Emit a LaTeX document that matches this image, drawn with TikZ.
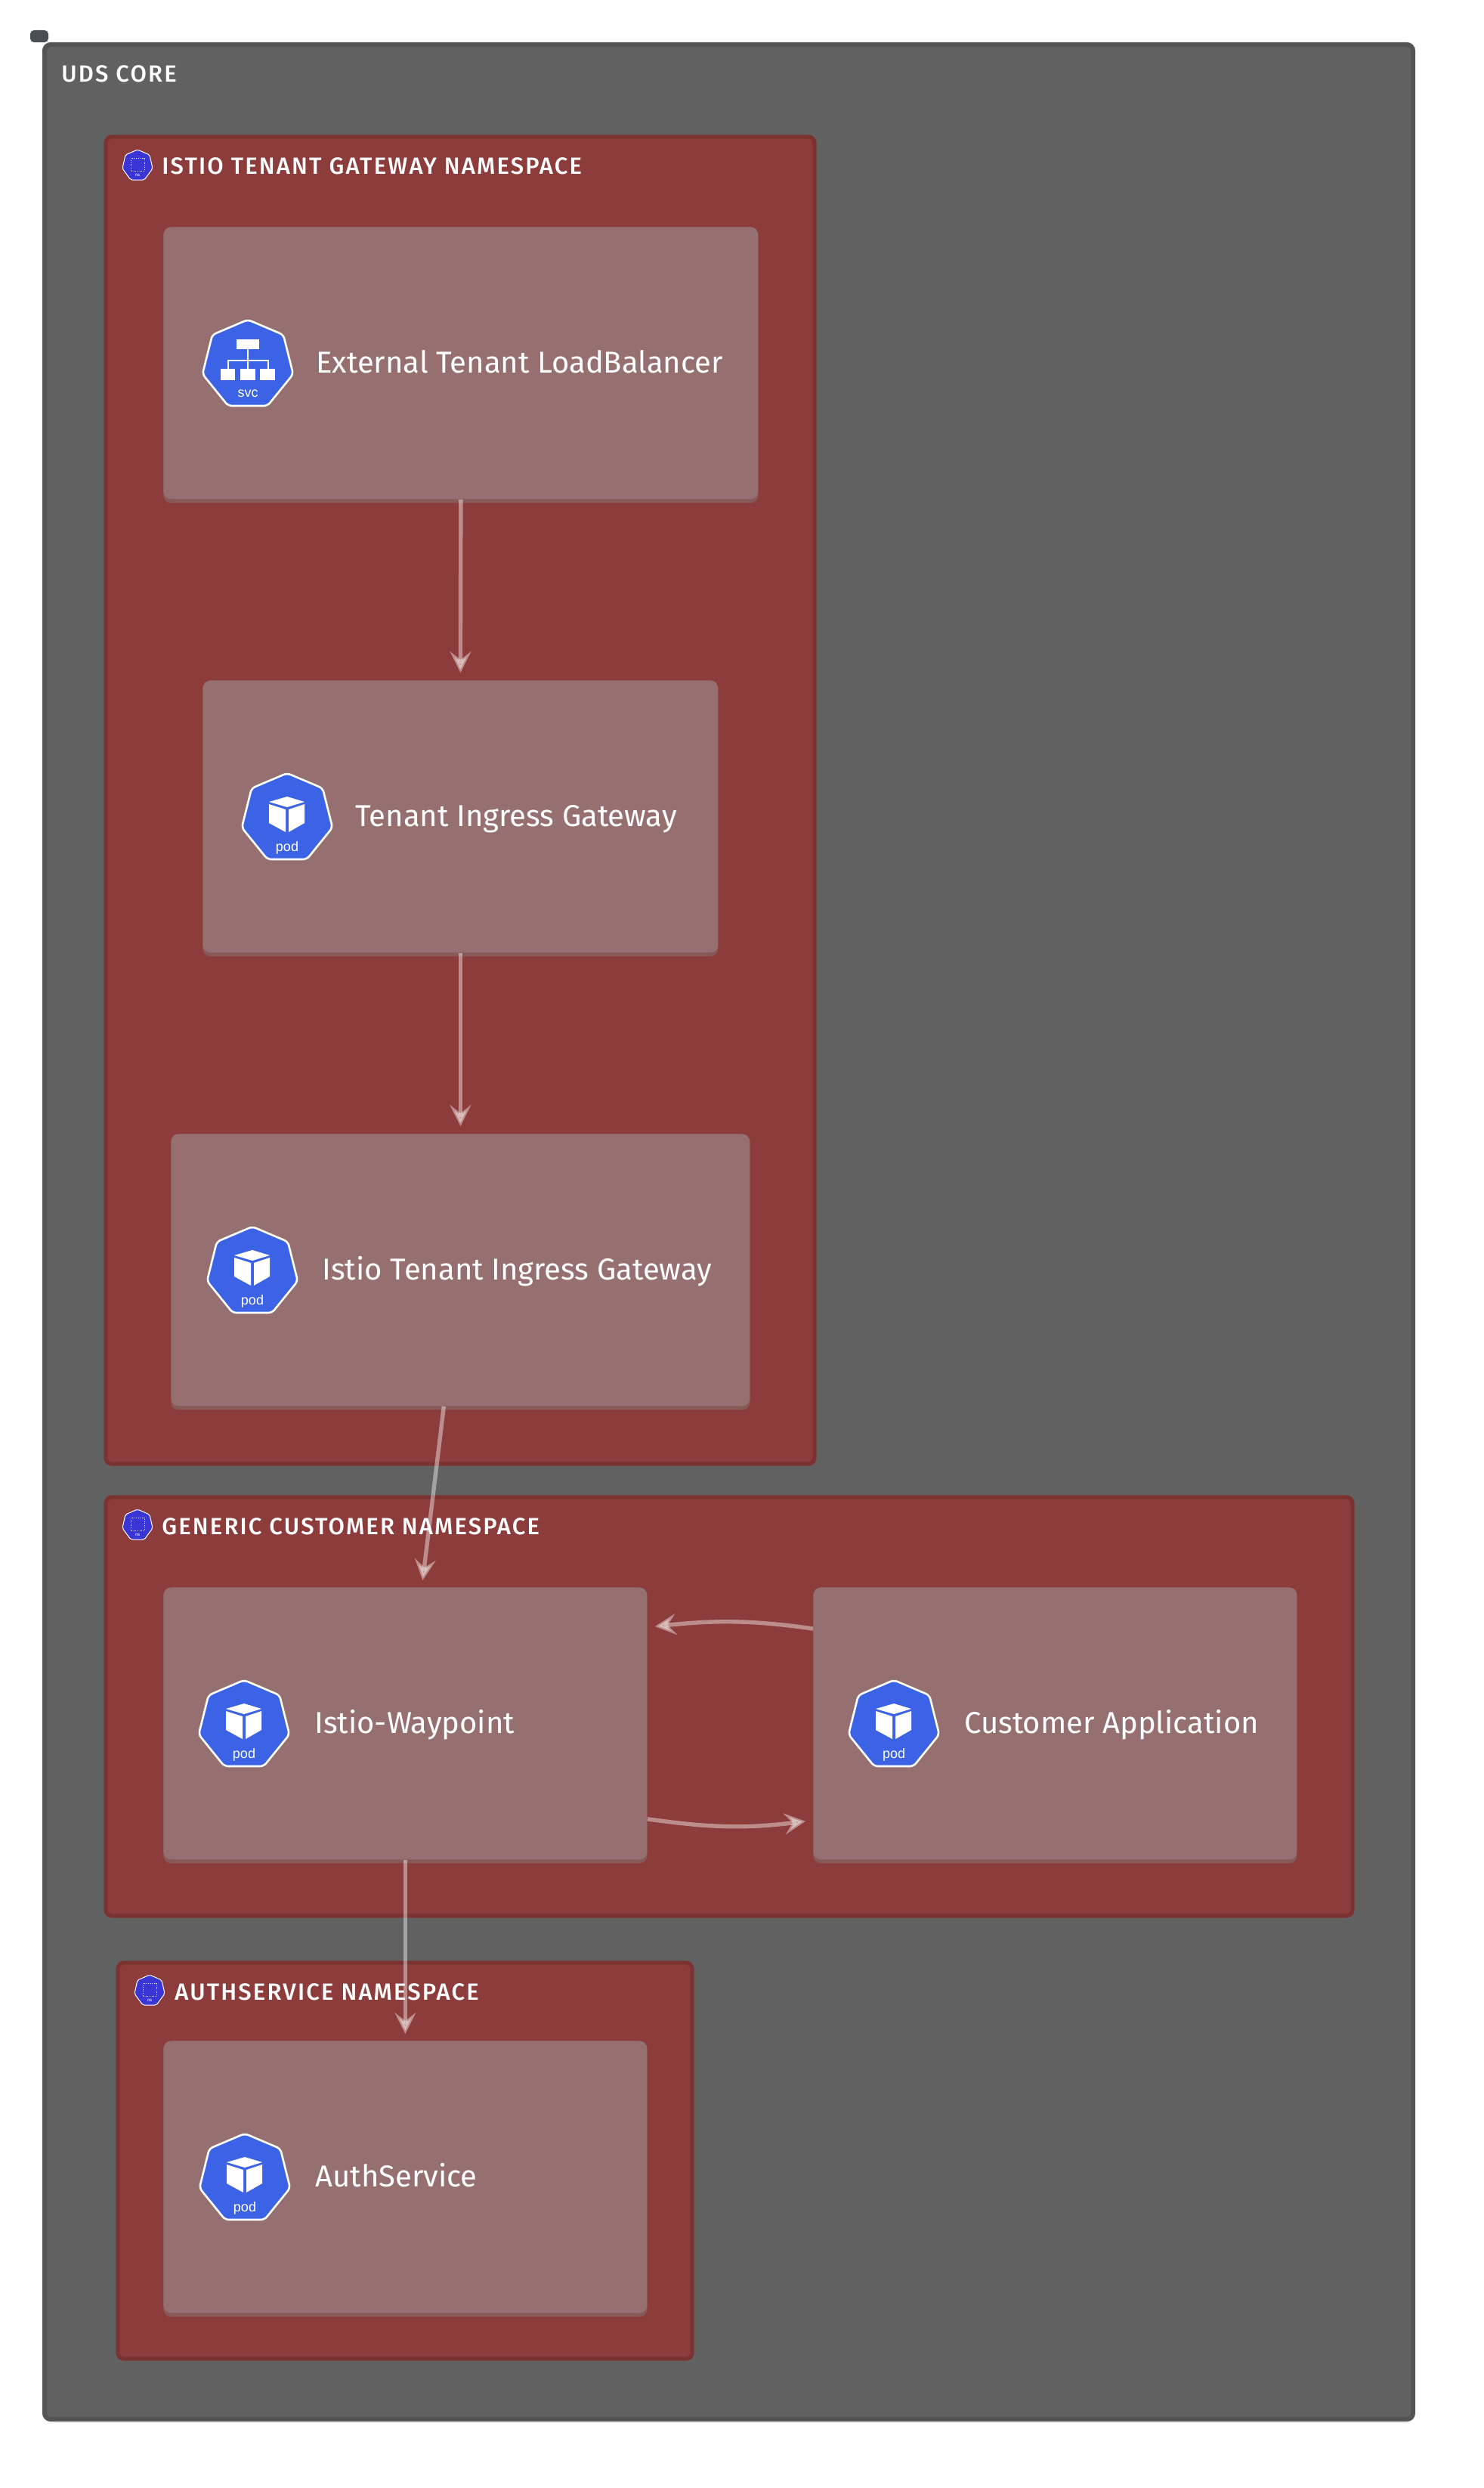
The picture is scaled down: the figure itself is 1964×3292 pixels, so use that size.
\documentclass[tikz,border=0pt]{standalone}
\usepackage{fontspec}
\setmainfont{Fira Sans}
\newfontfamily\titlefont[LetterSpace=7]{Fira Sans Medium}
\newfontfamily\iconfont{Liberation Sans}
\usetikzlibrary{arrows.meta,shadows}
\definecolor{coregray}{HTML}{616161}
\definecolor{coreedge}{HTML}{545454}
\definecolor{nsred}{HTML}{8C3C3A}
\definecolor{nsedge}{HTML}{7A3331}
\definecolor{cardrose}{HTML}{967070}
\definecolor{iconblue}{HTML}{3C63E6}
\definecolor{nsblue}{HTML}{3B35D6}
\definecolor{tabdark}{HTML}{4A4F55}
\tikzset{
corebox/.style={draw=coreedge,fill=coregray,line width=3pt,rounded corners=4pt,drop shadow={shadow xshift=0pt,shadow yshift=-3pt,opacity=.08}},
nsbox/.style={draw=nsedge,fill=nsred,line width=2.6pt,rounded corners=4pt,drop shadow={shadow xshift=0pt,shadow yshift=-2pt,opacity=.12}},
card/.style={fill=cardrose,rounded corners=5pt,anchor=north west,inner sep=0pt,drop shadow={shadow xshift=0pt,shadow yshift=-2.5pt,opacity=.45}},
cardtext/.style={anchor=west,inner sep=0pt,text=white,text height=17pt,text depth=3.5pt,font=\fontsize{20}{23}\selectfont},
titletext/.style={anchor=west,inner sep=0pt,text=white,font=\fontsize{15.5}{18}\titlefont},
conn/.style={-{Stealth[length=14pt,width=14pt,inset=5.5pt]},draw=white,opacity=.42,line width=2.7pt},
heptagon/.style={draw=white,rounded corners=2.5pt},
podicon/.pic={
\draw[heptagon,fill=iconblue,line width=1.3pt](0,-57)--(47,-37)--(60,15)--(26,57)--(-26,57)--(-60,15)--(-47,-37)--cycle;
\fill[white](0,-26)--(23,-19)--(0,-12)--(-24,-19)--cycle;
\fill[white](-24,-16)--(-2,-9)--(-2,21)--(-24,9)--cycle;
\fill[white](2,-9)--(23,-16)--(23,9)--(2,21)--cycle;
\node(-txt) at (0,42)[inner sep=0pt,text=white,font=\fontsize{9}{9}\iconfont]{pod};
},
svcicon/.pic={
\draw[heptagon,fill=iconblue,line width=1.3pt](0,-57)--(47,-37)--(60,15)--(26,57)--(-26,57)--(-60,15)--(-47,-37)--cycle;
\fill[white](-15,-31)rectangle(15,-18);
\draw[white,line width=1pt](0,-18)--(0,9);
\draw[white,line width=1pt](-26,9)--(-26,-3)--(27,-3)--(27,9);
\fill[white](-36,8)rectangle(-17,23);
\fill[white](-10,8)rectangle(10,23);
\fill[white](16,8)rectangle(36,23);
\node(-txt) at (0,41)[inner sep=0pt,text=white,font=\fontsize{9}{9}\iconfont]{svc};
},
nsicon/.pic={
\draw[heptagon,fill=nsblue,line width=.5pt,rounded corners=1pt](0,-20)--(16,-13)--(20,5)--(9,20)--(-9,20)--(-20,5)--(-16,-13)--cycle;
\draw[white,densely dotted,line width=.3pt](-9,-9)rectangle(9,8);
\node(-txt) at (0,14)[inner sep=0pt,text=white,font=\fontsize{3}{3}\iconfont]{ns};
}
}
\begin{document}
\begin{tikzpicture}[x=.5pt,y=-.5pt]
\useasboundingbox (0,0) rectangle (1964,3292);
\node(tab) at (52,48)[fill=tabdark,rounded corners=2.5pt,minimum width=12pt,minimum height=8pt,inner sep=0pt]{};
\draw[corebox](59,59)rectangle(1870,3201);
\node(coretitle) at (81,98)[titletext]{UDS CORE};
\draw[nsbox](140,181)rectangle(1078,1937);
\pic(nsa) at (182,218){nsicon};
\node(gwtitle) at (214,220)[titletext]{ISTIO TENANT GATEWAY NAMESPACE};
\node(extlb) at (216,300)[card,minimum width=393.5pt,minimum height=180pt]{};
\pic(iconlb) at (328,480){svcicon};
\node(extlbtext) at (418,480)[cardtext]{External Tenant LoadBalancer};
\node(tenantgw) at (268,900)[card,minimum width=341pt,minimum height=180pt]{};
\pic(icongw) at (380,1080){podicon};
\node(tenantgwtext) at (470,1080)[cardtext]{Tenant Ingress Gateway};
\node(istiogw) at (226,1500)[card,minimum width=383pt,minimum height=180pt]{};
\pic(iconistio) at (334,1680){podicon};
\node(istiogwtext) at (426,1680)[cardtext]{Istio Tenant Ingress Gateway};
\draw[nsbox](140,1981)rectangle(1790,2535);
\pic(nsb) at (182,2017){nsicon};
\node(custtitle) at (214,2020)[titletext]{GENERIC CUSTOMER NAMESPACE};
\node(waypoint) at (216,2100)[card,minimum width=320pt,minimum height=180pt]{};
\pic(iconway) at (323,2280){podicon};
\node(waypointtext) at (416,2280)[cardtext]{Istio-Waypoint};
\node(custapp) at (1076,2100)[card,minimum width=320pt,minimum height=180pt]{};
\pic(iconapp) at (1183,2280){podicon};
\node(custapptext) at (1276,2280)[cardtext]{Customer Application};
\draw[nsbox](156,2597)rectangle(916,3121);
\pic(nsc) at (198,2633){nsicon};
\node(authtitle) at (231,2636)[titletext]{AUTHSERVICE NAMESPACE};
\node(authsvc) at (216,2700)[card,minimum width=320pt,minimum height=180pt]{};
\pic(iconauth) at (324,2880){podicon};
\node(authsvctext) at (417,2880)[cardtext]{AuthService};
\draw[conn](extlb.south)--([yshift=5pt]tenantgw.north);
\draw[conn](tenantgw.south)--([yshift=5pt]istiogw.north);
\draw[conn]([xshift=-11pt]istiogw.south)--([xshift=11.5pt,yshift=4.5pt]waypoint.north);
\draw[conn](waypoint.south)--([yshift=4.5pt]authsvc.north);
\draw[conn]([yshift=-27.5pt]custapp.north west)to[out=172,in=6]([xshift=5pt,yshift=-26pt]waypoint.north east);
\draw[conn]([yshift=27pt]waypoint.south east)to[out=-8,in=187]([xshift=-5pt,yshift=25.5pt]custapp.south west);
\end{tikzpicture}
\end{document}
